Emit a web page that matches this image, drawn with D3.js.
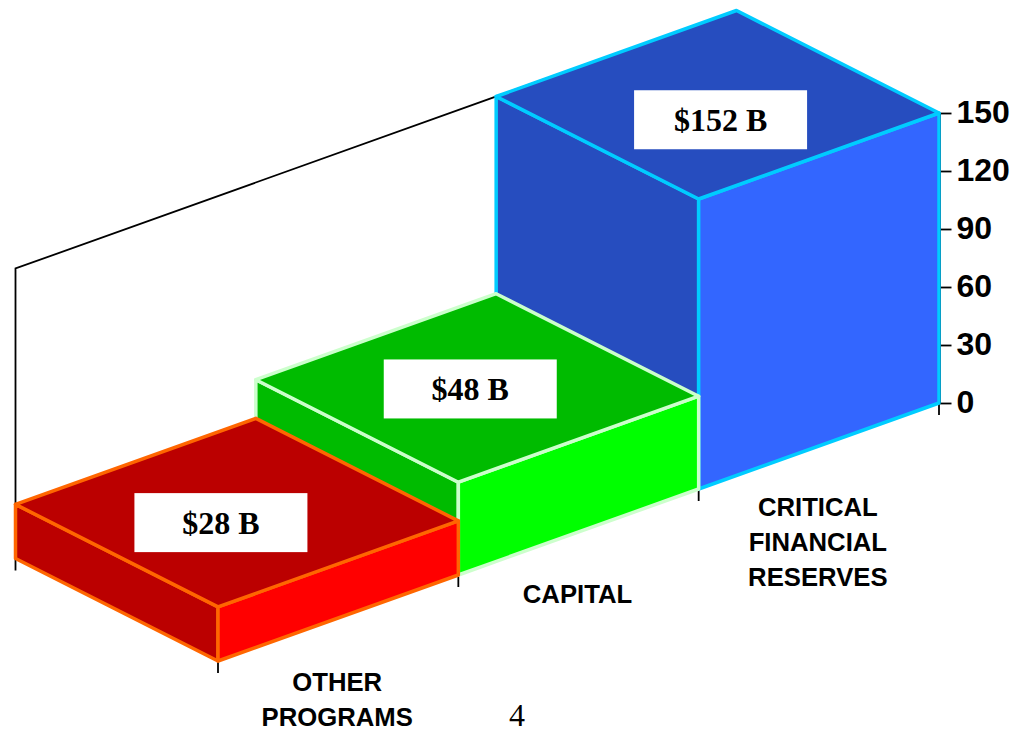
<!DOCTYPE html>
<html lang="en">
<head>
    <meta charset="UTF-8">
    <title>Reserves chart</title>
    <script src="https://d3js.org/d3.v7.min.js"></script>
    <style>
        html, body { margin: 0; padding: 0; background: #fff; overflow: hidden; }
        svg { display: block; }
        .tick-label { font-family: "Liberation Sans", Arial, sans-serif; font-weight: bold; font-size: 32px; fill: #000; }
        .cat-label { font-family: "Liberation Sans", Arial, sans-serif; font-weight: bold; font-size: 25.7px; fill: #000; text-anchor: middle; }
        .value-label { font-family: "Liberation Serif", "Times New Roman", serif; font-weight: bold; font-size: 32px; fill: #000; text-anchor: middle; }
        .page-number { font-family: "Liberation Serif", "Times New Roman", serif; font-size: 32px; fill: #000; text-anchor: middle; }
    </style>
</head>
<body>
    <svg id="chart" width="1015" height="731"></svg>
    <script>
        // Data, front bar first
        const categories = ["OTHER PROGRAMS", "CAPITAL", "CRITICAL FINANCIAL RESERVES"];
        const categoryLines = [["OTHER", "PROGRAMS"], ["CAPITAL"], ["CRITICAL", "FINANCIAL", "RESERVES"]];
        const values = [28, 48, 152];
        const valueLabels = ["$28 B", "$48 B", "$152 B"];
        const yTicks = [0, 30, 60, 90, 120, 150];
        const sideColors = ["#ff0000", "#00ff00", "#3366ff"];
        const topColors = ["#bb0000", "#00bb00", "#264dbf"];
        const edgeColors = ["#ff6600", "#ccffcc", "#00ccff"];

        const svg = d3.select("#chart");

        // The chart is an oblique projection: category runs along the floor to
        // the upper right, depth runs to the upper left, height goes straight up
        const catX = d3.scaleLinear().domain([0, 3]).range([218, 939]);
        const catY = d3.scaleLinear().domain([0, 3]).range([661, 403]);
        const depthX = d3.scaleLinear().domain([0, 1]).range([0, -202.5]);
        const depthY = d3.scaleLinear().domain([0, 1]).range([0, -102.5]);
        const yAxisScale = d3.scaleLinear().domain([0, 150]).range([403, 113]).clamp(true);
        const height = v => 403 - yAxisScale(v);

        const project = (u, d, v) => [catX(u) + depthX(d), catY(u) + depthY(d) - height(v)];
        const line = d3.line();
        const face = pts => line(pts.map(p => project(p[0], p[1], p[2]))) + "Z";

        // =============================================
        // AXES
        // =============================================

        // Back wall outline, hidden behind the blue bar for most of its length
        svg.append("path")
            .attr("d", line([project(0, 1, 0), project(0, 1, 150), project(3, 1, 150)]))
            .attr("fill", "none")
            .attr("stroke", "#000")
            .attr("stroke-width", 1.8);

        const yAxis = svg.append("g")
            .attr("transform", "translate(939.5,0)")
            .call(d3.axisRight(yAxisScale).tickValues(yTicks).tickSize(12).tickSizeOuter(0).tickPadding(5));
        yAxis.select(".domain").attr("stroke", "#000").attr("stroke-width", 1.8);
        yAxis.selectAll(".tick line").attr("stroke", "#000").attr("stroke-width", 1.8);
        yAxis.selectAll(".tick text").attr("class", "tick-label").attr("dy", "0.3em");

        // Floor ticks under the front edge and the back left corner
        const floorTicks = [[0, 1], [0, 0], [1, 0], [2, 0], [3, 0]];
        svg.selectAll(".floor-tick")
            .data(floorTicks)
            .enter()
            .append("line")
            .attr("class", "floor-tick")
            .attr("x1", d => project(d[0], d[1], 0)[0])
            .attr("x2", d => project(d[0], d[1], 0)[0])
            .attr("y1", d => project(d[0], d[1], 0)[1])
            .attr("y2", d => project(d[0], d[1], 0)[1] + 12)
            .attr("stroke", "#000")
            .attr("stroke-width", 1.8);

        // =============================================
        // BARS (back to front)
        // =============================================

        const order = d3.range(values.length).reverse();

        const bars = svg.selectAll(".bar")
            .data(order)
            .enter()
            .append("g")
            .attr("class", "bar")
            .attr("stroke", i => edgeColors[i])
            .attr("stroke-width", 3.5)
            .attr("stroke-linejoin", "round");

        // left face
        bars.append("path")
            .attr("fill", i => topColors[i])
            .attr("d", i => face([[i, 0, 0], [i, 1, 0], [i, 1, values[i]], [i, 0, values[i]]]));
        // right face
        bars.append("path")
            .attr("fill", i => sideColors[i])
            .attr("d", i => face([[i, 0, 0], [i + 1, 0, 0], [i + 1, 0, values[i]], [i, 0, values[i]]]));
        // top face
        bars.append("path")
            .attr("fill", i => topColors[i])
            .attr("d", i => face([[i, 0, values[i]], [i + 1, 0, values[i]], [i + 1, 1, values[i]], [i, 1, values[i]]]));

        // =============================================
        // LABELS
        // =============================================

        // White boxes are nudged off the middle of each top face
        const boxWidth = 173, boxHeight = 59;
        const boxNudge = [[-16, 10], [-7, 1], [3, 15]];
        const labelPos = i => {
            const p = project(i + 0.5, 0.5, values[i]);
            return [p[0] + boxNudge[i][0], p[1] + boxNudge[i][1]];
        };

        const labels = svg.selectAll(".value-box")
            .data(order)
            .enter()
            .append("g")
            .attr("class", "value-box")
            .attr("transform", i => `translate(${labelPos(i)})`);
        labels.append("rect")
            .attr("x", -boxWidth / 2)
            .attr("y", -boxHeight / 2)
            .attr("width", boxWidth)
            .attr("height", boxHeight)
            .attr("fill", "#fff");
        labels.append("text")
            .attr("class", "value-label")
            .attr("y", 11)
            .text(i => valueLabels[i]);

        // Category names, below the front edge of each bar
        const catDrop = [73, 71, 70];
        const catLabels = svg.selectAll(".cat")
            .data(categories)
            .enter()
            .append("text")
            .attr("class", "cat-label")
            .attr("transform", (d, i) => {
                const p = project(i + 0.5, 0, 0);
                return `translate(${p[0] - 1},${p[1] + catDrop[i]})`;
            });
        catLabels.selectAll("tspan")
            .data((d, i) => categoryLines[i])
            .enter()
            .append("tspan")
            .attr("x", 0)
            .attr("y", (d, j) => j * 35.2)
            .text(d => d);

        svg.append("text")
            .attr("class", "page-number")
            .attr("x", 517)
            .attr("y", 726)
            .text("4");
    </script>
</body>
</html>
